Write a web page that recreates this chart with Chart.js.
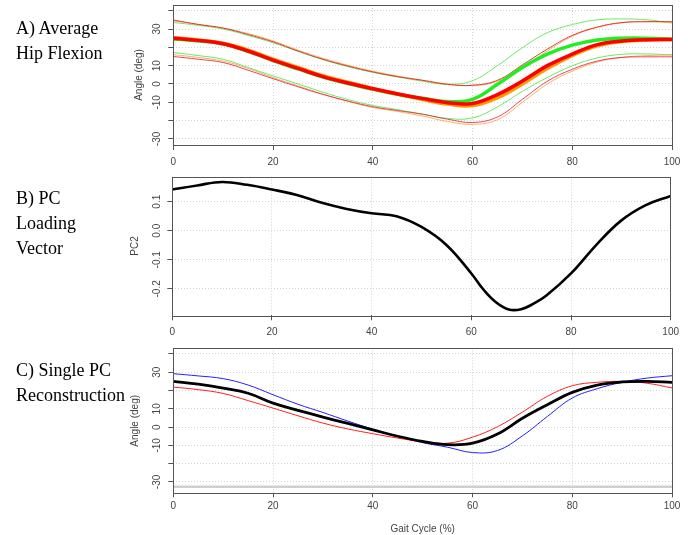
<!DOCTYPE html>
<html><head><meta charset="utf-8">
<script src="https://cdn.jsdelivr.net/npm/chart.js@4"></script>
<style>
html,body{margin:0;padding:0;background:#fff;}
body{width:688px;height:535px;position:relative;overflow:hidden;}
canvas{position:absolute;left:0;}
.lab{position:absolute;left:16px;font-family:"Liberation Serif","Times New Roman",serif;font-size:18px;line-height:25px;color:#000;z-index:5;white-space:nowrap;}
</style></head><body>
<canvas id="cA" width="688" height="172" style="top:0px"></canvas>
<canvas id="cB" width="688" height="171" style="top:172px"></canvas>
<canvas id="cC" width="688" height="192" style="top:343px"></canvas>
<div class="lab" style="top:16.4px">A) Average<br>Hip Flexion</div>
<div class="lab" style="top:186.4px">B) PC<br>Loading<br>Vector</div>
<div class="lab" style="top:358.1px">C) Single PC<br>Reconstruction</div>
<script>
// ---- data ----
const gait = [0,5,10,15,20,25,30,35,40,45,50,55,60,65,70,75,80,85,90,95,100];
const xTicks = [0,20,40,60,80,100];
const angleTickLabels = [30,10,0,-10,-30];

// Panel A: average hip flexion (mean and mean +/- SD per group)
const redMean    = [24.9,23.8,22.0,18.0,13.0,8.5,4.0,0.5,-2.6,-5.5,-8.0,-10.2,-10.6,-5.8,1.6,10.0,16.3,21.5,23.5,24.2,24.3];
const orangeMean = [25.2,24.0,22.2,18.5,13.5,9.0,4.5,1.0,-2.5,-5.5,-8.5,-11.0,-11.8,-7.5,0.0,8.5,15.5,20.8,23.2,24.0,24.3];
const greenMean  = [24.6,23.5,21.8,17.8,12.8,8.2,3.8,0.3,-2.8,-5.6,-7.8,-9.6,-8.4,-0.2,9.0,16.3,21.2,24.0,25.0,25.0,24.4];
const redUpper    = [34.9,32.5,30.5,27.0,23.0,18.0,13.5,9.8,6.6,4.0,2.0,-0.2,-0.7,2.0,10.4,19.0,26.5,31.0,33.5,34.0,34.0];
const orangeUpper = [34.5,32.5,30.5,27.5,23.5,18.5,14.0,10.2,7.0,4.3,2.0,0.0,-0.8,1.5,9.0,18.0,26.0,31.0,33.5,34.0,33.5];
const greenUpper  = [33.6,32.0,30.0,26.5,22.5,17.8,13.3,9.5,6.3,3.8,1.5,-0.2,1.8,10.0,19.8,28.0,32.4,35.0,35.5,35.0,33.3];
const redLower    = [15.0,13.5,11.7,7.5,2.9,-1.5,-5.7,-9.3,-12.4,-14.5,-16.5,-19.2,-21.0,-18.0,-8.4,1.5,8.0,12.5,14.5,14.8,14.8];
const orangeLower = [16.0,14.5,12.5,8.5,3.5,-1.0,-5.5,-9.5,-12.8,-15.0,-17.5,-20.5,-22.0,-19.5,-10.0,0.0,7.0,12.0,14.5,15.5,15.8];
const greenLower  = [17.2,15.5,13.5,9.0,4.4,0.0,-4.5,-8.5,-11.7,-14.0,-16.5,-18.8,-18.5,-12.5,-4.0,3.5,9.9,14.2,16.2,16.4,15.9];

// Panel B: PC2 loading vector
const gaitB = [0,5,10,15,20,25,30,35,40,45,50,55,60,62.5,65,67.5,70,72.5,75,80,85,90,95,100];
const pc2   = [0.142,0.156,0.168,0.158,0.142,0.123,0.096,0.075,0.060,0.050,0.013,-0.049,-0.147,-0.204,-0.247,-0.271,-0.270,-0.251,-0.224,-0.147,-0.050,0.034,0.088,0.120];

// Panel C: single PC reconstruction
const reconMean = [25.0,23.5,21.3,18.5,13.1,9.2,5.5,2.0,-1.5,-5.0,-7.8,-9.6,-8.8,-3.8,4.8,12.2,19.0,23.0,24.7,25.0,24.5];
const reconLow  = [21.9,20.5,18.4,14.5,10.4,6.2,2.2,-1.0,-3.6,-6.0,-8.0,-8.8,-5.5,0.2,8.2,16.8,22.6,24.5,25.0,24.0,21.4];
const reconHigh = [29.2,28.0,26.5,23.0,17.7,12.5,8.0,3.3,-1.1,-5.0,-8.5,-11.0,-13.9,-12.8,-4.8,5.8,15.9,21.0,24.5,26.8,28.1];
const refLineX = [0,100];
const refLineY = [-32.6,-32.6];

// ---- helpers ----
const pts = (xs, ys) => xs.map((x,i)=>({x:x, y:ys[i]}));
const FONT = '"Liberation Sans Narrow","Liberation Sans",Arial,sans-serif';
const TXT = '#444';

const boxPlugin = {
  id:'box',
  afterDraw(chart){
    const {ctx, chartArea:a} = chart;
    ctx.save();
    ctx.strokeStyle = '#555';
    ctx.lineWidth = 1;
    ctx.strokeRect(Math.round(a.left)+0.5, Math.round(a.top)+0.5, Math.round(a.right-a.left), Math.round(a.bottom-a.top));
    ctx.restore();
  }
};

function line(data, color, width){
  return {data, borderColor:color, borderWidth:width, pointRadius:0, fill:false,
          cubicInterpolationMode:'default', tension:0.4, borderJoinStyle:'round', borderCapStyle:'round'};
}

function makeChart(id, datasets, cfg){
  return new Chart(document.getElementById(id), {
    type:'line',
    data:{datasets},
    plugins:[boxPlugin],
    options:{
      responsive:false, animation:false, events:[],
      layout:{padding:{top:cfg.padTop, left:cfg.padLeft, right:cfg.padRight, bottom:0}},
      plugins:{legend:{display:false}, tooltip:{enabled:false}},
      scales:{
        x:{
          type:'linear', min:0, max:100,
          afterBuildTicks(s){ s.ticks = xTicks.map(v=>({value:v})); },
          afterFit(s){ s.height = cfg.xHeight; s.paddingLeft = 0; s.paddingRight = 0; },
          grid:{color:'#d3d3d3', lineWidth:1, drawTicks:true, tickLength:cfg.xTickLen, tickColor:'#555', tickBorderDash:[], tickWidth:1},
          border:{display:false, dash:[1,2]},
          ticks:{color:TXT, font:{family:FONT, size:10}, padding:cfg.xTickPad, maxRotation:0, autoSkip:false},
          title:{display:!!cfg.xTitle, text:cfg.xTitle||'', color:TXT, font:{family:FONT, size:10}, padding:{top:0,bottom:0}}
        },
        y:{
          type:'linear', min:cfg.yMin, max:cfg.yMax,
          afterBuildTicks(s){ s.ticks = cfg.yTicks.map(v=>({value:v})); },
          afterFit(s){ s.width = cfg.yWidth; s.paddingTop = 0; s.paddingBottom = 0; },
          grid:{color:'#d3d3d3', lineWidth:1, drawTicks:true, tickLength:5, tickColor:'#555', tickBorderDash:[], tickWidth:1},
          border:{display:false, dash:[1,2]},
          ticks:{color:TXT, font:{family:FONT, size:10}, padding:cfg.yTickPad, minRotation:90, maxRotation:90,
                 crossAlign:'center', autoSkip:false, callback:cfg.yLabel},
          title:{display:true, text:cfg.yTitle, color:TXT, font:{family:FONT, size:10}, padding:{top:cfg.yTitlePad,bottom:0}}
        }
      }
    }
  });
}

const angleTicks = [-30,-20,-10,0,10,20,30,40];
const angleLabel = v => angleTickLabels.includes(v) ? String(v) : '';

// Panel A
makeChart('cA', [
  line(pts(gait, redMean), '#ff0000', 3.5),
  line(pts(gait, orangeMean), '#ff9a00', 3.5),
  line(pts(gait, greenMean), '#20ee20', 3.5),
  line(pts(gait, redUpper), 'rgba(225,40,40,0.9)', 1),
  line(pts(gait, redLower), 'rgba(225,40,60,0.85)', 1),
  line(pts(gait, orangeUpper), 'rgba(255,165,90,0.9)', 1),
  line(pts(gait, orangeLower), 'rgba(255,165,90,0.9)', 1),
  line(pts(gait, greenUpper), 'rgba(80,230,80,0.85)', 1),
  line(pts(gait, greenLower), 'rgba(80,230,80,0.85)', 1)
], {padTop:5, padLeft:130, padRight:16, xHeight:27, xTickLen:5, xTickPad:6,
    yMin:-33.3, yMax:43.1, yTicks:angleTicks, yLabel:angleLabel, yWidth:43.3, yTickPad:3.5,
    yTitle:'Angle (deg)', yTitlePad:3});

// Panel B
makeChart('cB', [
  line(pts(gaitB, pc2), '#000000', 2.6)
], {padTop:4.7, padLeft:126, padRight:17.3, xHeight:27.7, xTickLen:5, xTickPad:6,
    yMin:-0.291, yMax:0.186, yTicks:[-0.2,-0.1,0,0.1], yLabel:v=>Number(v).toFixed(1), yWidth:46.3, yTickPad:1.5,
    yTitle:'PC2', yTitlePad:3});

// Panel C
makeChart('cC', [
  line(pts(gait, reconMean), '#000000', 2.8),
  line(pts(gait, reconLow), '#ff2020', 1),
  line(pts(gait, reconHigh), '#2020ff', 1),
  {data:pts(refLineX, refLineY), borderColor:'#cfcfcf', borderWidth:2.5, pointRadius:0, fill:false}
], {padTop:5.3, padLeft:127, padRight:16, xHeight:41.7, xTickLen:4, xTickPad:2.5, xTitle:'Gait Cycle (%)',
    yMin:-36.2, yMax:43.1, yTicks:angleTicks, yLabel:angleLabel, yWidth:46.3, yTickPad:3.5,
    yTitle:'Angle (deg)', yTitlePad:2.7});
</script>
</body></html>
